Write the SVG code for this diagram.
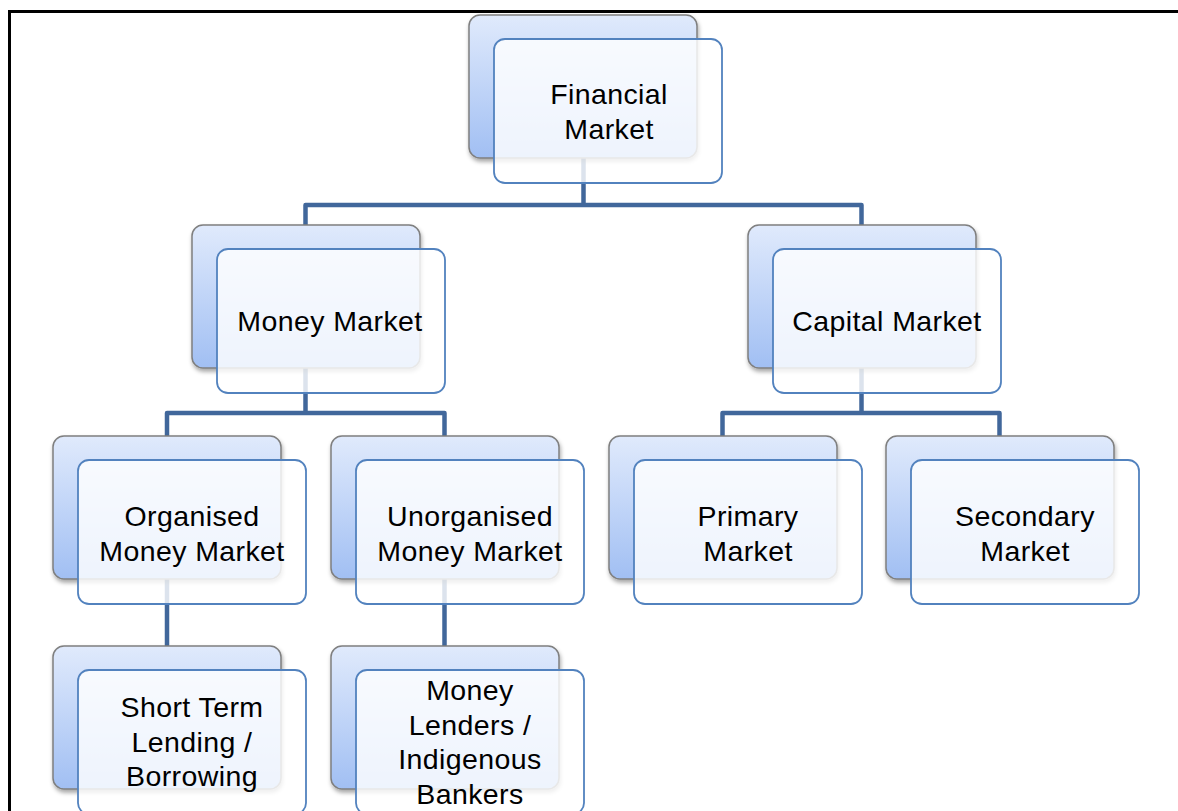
<svg xmlns="http://www.w3.org/2000/svg" width="1178" height="811" viewBox="0 0 1178 811">
<defs>
<linearGradient id="bg" x1="0" y1="0" x2="0" y2="1">
<stop offset="0" stop-color="#e0eafc"/>
<stop offset="1" stop-color="#a1bff3"/>
</linearGradient>
<filter id="sh" x="-10%" y="-10%" width="125%" height="130%">
<feDropShadow dx="1" dy="3" stdDeviation="2" flood-color="#000" flood-opacity="0.35"/>
</filter>
<style>
.back{fill:url(#bg);stroke:#7f7f7f;stroke-width:1.5;filter:url(#sh)}
.front{fill:#ffffff;fill-opacity:0.82;stroke:#5282be;stroke-width:1.8}
.t{font-family:"Liberation Sans",Arial,sans-serif;font-size:28.5px;letter-spacing:0.4px;fill:#000;text-anchor:middle}
.c{fill:none;stroke:#41679b;stroke-width:4.5;stroke-linejoin:round}
</style>
</defs>
<rect width="1178" height="811" fill="#fff"/>
<path d="M9.5 811 V11.5 H1178" fill="none" stroke="#000" stroke-width="3"/>
<g id="connectors">
<path class="c" d="M305.5 225 V205 H861.5 V225 M583.5 158 V205"/>
<path class="c" d="M167 436 V413 H444.5 V436 M305.5 368 V413"/>
<path class="c" d="M722.5 436 V413 H999.5 V436 M861.5 368 V413"/>
<path class="c" d="M167 577 V646 M444.5 577 V646"/>
</g>
<g id="financial">
<rect class="back" x="469" y="15" width="228" height="143" rx="11"/>
<rect class="front" x="494" y="39" width="228" height="144" rx="11"/>
<text class="t" x="609" y="104">Financial</text>
<text class="t" x="609" y="138.5">Market</text>
</g>
<g id="money">
<rect class="back" x="192" y="225" width="228" height="143" rx="11"/>
<rect class="front" x="217" y="249" width="228" height="144" rx="11"/>
<text class="t" x="330" y="331">Money Market</text>
</g>
<g id="capital">
<rect class="back" x="748" y="225" width="228" height="143" rx="11"/>
<rect class="front" x="773" y="249" width="228" height="144" rx="11"/>
<text class="t" x="887" y="331">Capital Market</text>
</g>
<g id="organised">
<rect class="back" x="53" y="436" width="228" height="143" rx="11"/>
<rect class="front" x="78" y="460" width="228" height="144" rx="11"/>
<text class="t" x="192" y="526">Organised</text>
<text class="t" x="192" y="560.5">Money Market</text>
</g>
<g id="unorganised">
<rect class="back" x="331" y="436" width="228" height="143" rx="11"/>
<rect class="front" x="356" y="460" width="228" height="144" rx="11"/>
<text class="t" x="470" y="526">Unorganised</text>
<text class="t" x="470" y="560.5">Money Market</text>
</g>
<g id="primary">
<rect class="back" x="609" y="436" width="228" height="143" rx="11"/>
<rect class="front" x="634" y="460" width="228" height="144" rx="11"/>
<text class="t" x="748" y="526">Primary</text>
<text class="t" x="748" y="560.5">Market</text>
</g>
<g id="secondary">
<rect class="back" x="886" y="436" width="228" height="143" rx="11"/>
<rect class="front" x="911" y="460" width="228" height="144" rx="11"/>
<text class="t" x="1025" y="526">Secondary</text>
<text class="t" x="1025" y="560.5">Market</text>
</g>
<g id="shortterm">
<rect class="back" x="53" y="646" width="228" height="143" rx="11"/>
<rect class="front" x="78" y="670" width="228" height="144" rx="11"/>
<text class="t" x="192" y="717">Short Term</text>
<text class="t" x="192" y="752">Lending /</text>
<text class="t" x="192" y="786">Borrowing</text>
</g>
<g id="lenders">
<rect class="back" x="331" y="646" width="228" height="143" rx="11"/>
<rect class="front" x="356" y="670" width="228" height="144" rx="11"/>
<text class="t" x="470" y="700">Money</text>
<text class="t" x="470" y="735">Lenders /</text>
<text class="t" x="470" y="769">Indigenous</text>
<text class="t" x="470" y="804">Bankers</text>
</g>
</svg>
